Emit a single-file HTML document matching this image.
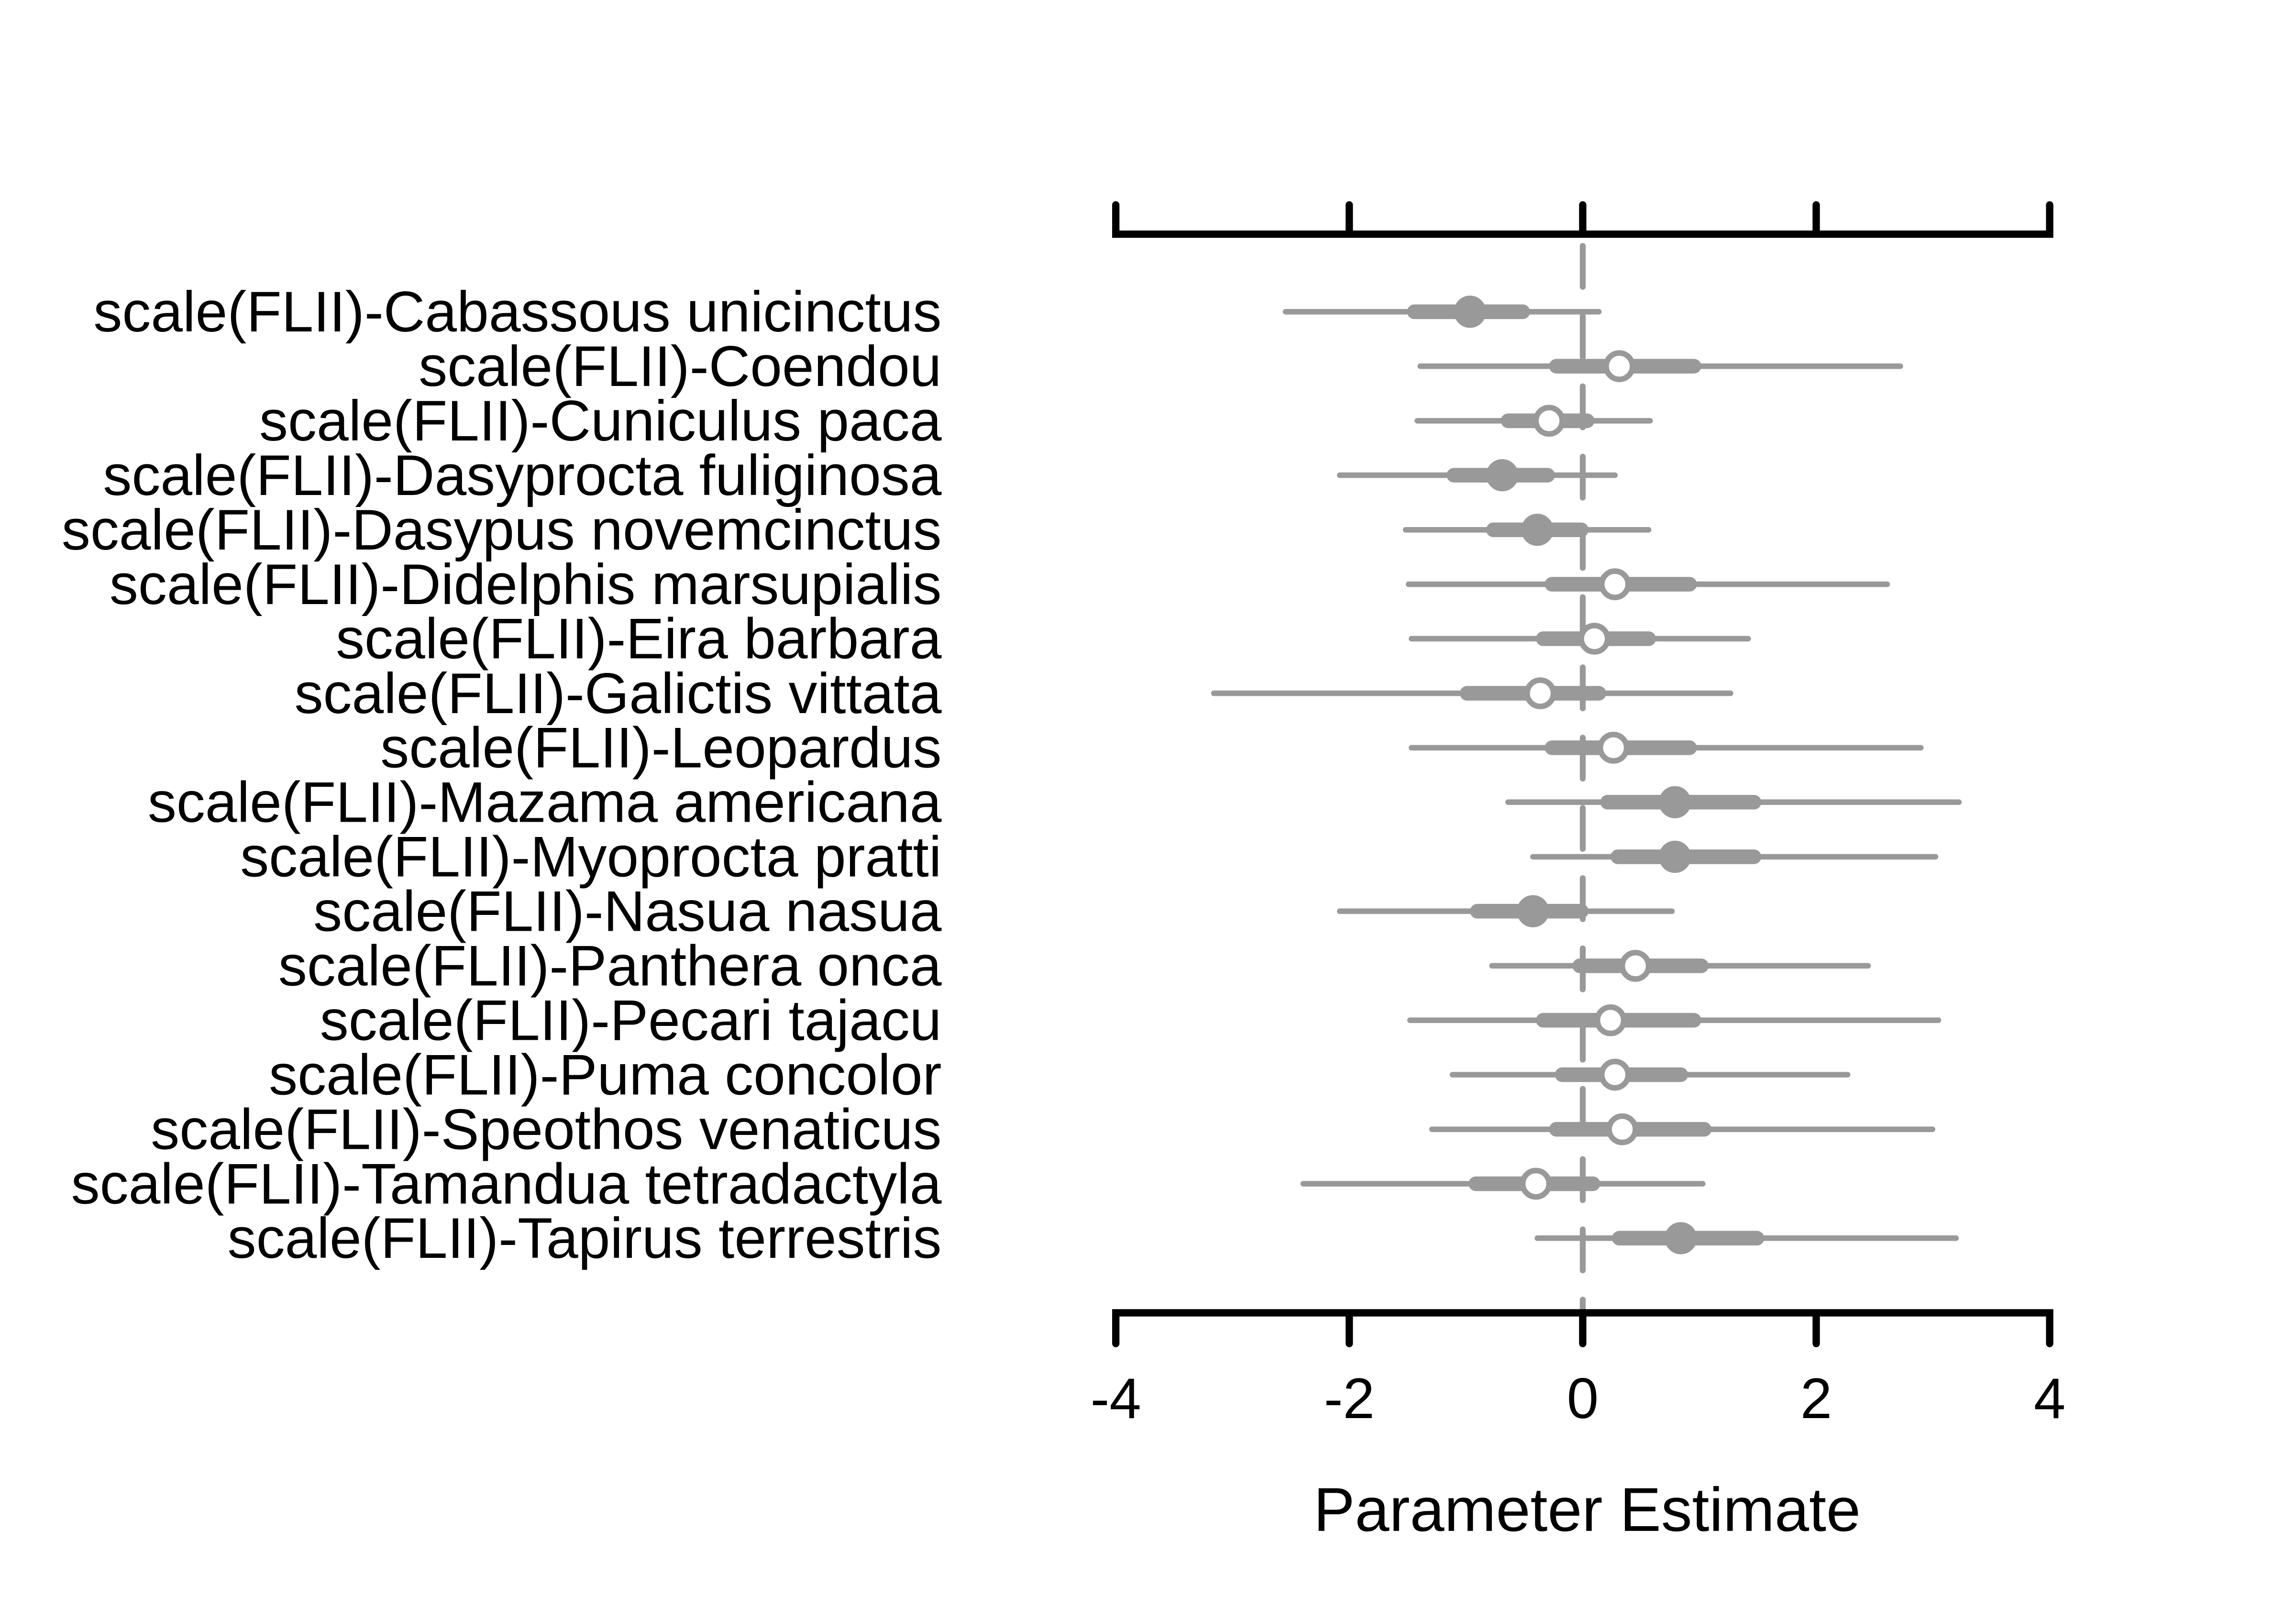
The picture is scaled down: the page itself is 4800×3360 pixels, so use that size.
<!DOCTYPE html>
<html><head><meta charset="utf-8"><style>html,body{margin:0;padding:0;background:#fff}svg{display:block}</style></head>
<body>
<svg width="4800" height="3360" viewBox="0 0 1568 1098" xmlns="http://www.w3.org/2000/svg" font-family="Liberation Sans, Arial, sans-serif">
<rect width="1568" height="1098" fill="#fff"/>
<line x1="1081" y1="168" x2="1081" y2="897" stroke="#999" stroke-width="4" stroke-dasharray="28,20" stroke-linecap="round"/>
<g stroke="#000" stroke-width="5" stroke-linecap="round" fill="none">
<path d="M762 140V160H1400V140M921.5 140V160M1081 140V160M1240.5 140V160"/>
<path d="M762 918V897H1400V918M921.5 918V897M1081 918V897M1240.5 918V897"/>
</g>
<g font-size="39" text-anchor="middle" fill="#000">
<text x="762" y="969">-4</text><text x="921.5" y="969">-2</text><text x="1081" y="969">0</text><text x="1240.5" y="969">2</text><text x="1400" y="969">4</text>
<text x="1084" y="1046" font-size="42.3">Parameter Estimate</text>
</g>
<g font-size="39.2" text-anchor="end" fill="#000">
<text x="643" y="226.5">scale(FLII)-Cabassous unicinctus</text>
<text x="643" y="263.7">scale(FLII)-Coendou</text>
<text x="643" y="301">scale(FLII)-Cuniculus paca</text>
<text x="643" y="338.2">scale(FLII)-Dasyprocta fuliginosa</text>
<text x="643" y="375.5">scale(FLII)-Dasypus novemcinctus</text>
<text x="643" y="412.7">scale(FLII)-Didelphis marsupialis</text>
<text x="643" y="449.9">scale(FLII)-Eira barbara</text>
<text x="643" y="487.2">scale(FLII)-Galictis vittata</text>
<text x="643" y="524.4">scale(FLII)-Leopardus</text>
<text x="643" y="561.6">scale(FLII)-Mazama americana</text>
<text x="643" y="598.9">scale(FLII)-Myoprocta pratti</text>
<text x="643" y="636.1">scale(FLII)-Nasua nasua</text>
<text x="643" y="673.4">scale(FLII)-Panthera onca</text>
<text x="643" y="710.6">scale(FLII)-Pecari tajacu</text>
<text x="643" y="747.8">scale(FLII)-Puma concolor</text>
<text x="643" y="785.1">scale(FLII)-Speothos venaticus</text>
<text x="643" y="822.3">scale(FLII)-Tamandua tetradactyla</text>
<text x="643" y="859.5">scale(FLII)-Tapirus terrestris</text>
</g>
<g stroke="#999" stroke-linecap="round" fill="#999">
<g transform="translate(0,213)"><line x1="878" x2="1092" stroke-width="3.8"/><line x1="966" x2="1040" stroke-width="10"/><circle cx="1004" r="10.5"/></g>
<g transform="translate(0,250.2)"><line x1="970" x2="1298" stroke-width="3.8"/><line x1="1063" x2="1157" stroke-width="10"/><circle cx="1106" r="9" fill="#fff" stroke-width="3.8"/></g>
<g transform="translate(0,287.5)"><line x1="968" x2="1127" stroke-width="3.8"/><line x1="1030" x2="1084" stroke-width="10"/><circle cx="1058" r="9" fill="#fff" stroke-width="3.8"/></g>
<g transform="translate(0,324.7)"><line x1="915" x2="1103" stroke-width="3.8"/><line x1="993" x2="1057" stroke-width="10"/><circle cx="1026" r="10.5"/></g>
<g transform="translate(0,362)"><line x1="960" x2="1126" stroke-width="3.8"/><line x1="1020" x2="1080" stroke-width="10"/><circle cx="1050" r="10.5"/></g>
<g transform="translate(0,399.2)"><line x1="962" x2="1289" stroke-width="3.8"/><line x1="1060" x2="1154" stroke-width="10"/><circle cx="1103" r="9" fill="#fff" stroke-width="3.8"/></g>
<g transform="translate(0,436.4)"><line x1="964" x2="1194" stroke-width="3.8"/><line x1="1054" x2="1126" stroke-width="10"/><circle cx="1089" r="9" fill="#fff" stroke-width="3.8"/></g>
<g transform="translate(0,473.7)"><line x1="829" x2="1182" stroke-width="3.8"/><line x1="1002" x2="1092" stroke-width="10"/><circle cx="1052" r="9" fill="#fff" stroke-width="3.8"/></g>
<g transform="translate(0,510.9)"><line x1="964" x2="1312" stroke-width="3.8"/><line x1="1060" x2="1154" stroke-width="10"/><circle cx="1102" r="9" fill="#fff" stroke-width="3.8"/></g>
<g transform="translate(0,548.1)"><line x1="1030" x2="1338" stroke-width="3.8"/><line x1="1098" x2="1198" stroke-width="10"/><circle cx="1144" r="10.5"/></g>
<g transform="translate(0,585.4)"><line x1="1047" x2="1322" stroke-width="3.8"/><line x1="1105" x2="1198" stroke-width="10"/><circle cx="1144" r="10.5"/></g>
<g transform="translate(0,622.6)"><line x1="915" x2="1142" stroke-width="3.8"/><line x1="1009" x2="1080" stroke-width="10"/><circle cx="1047" r="10.5"/></g>
<g transform="translate(0,659.9)"><line x1="1019" x2="1276" stroke-width="3.8"/><line x1="1079" x2="1162" stroke-width="10"/><circle cx="1117" r="9" fill="#fff" stroke-width="3.8"/></g>
<g transform="translate(0,697.1)"><line x1="963" x2="1324" stroke-width="3.8"/><line x1="1054" x2="1157" stroke-width="10"/><circle cx="1100" r="9" fill="#fff" stroke-width="3.8"/></g>
<g transform="translate(0,734.3)"><line x1="992" x2="1262" stroke-width="3.8"/><line x1="1067" x2="1148" stroke-width="10"/><circle cx="1103" r="9" fill="#fff" stroke-width="3.8"/></g>
<g transform="translate(0,771.6)"><line x1="978" x2="1320" stroke-width="3.8"/><line x1="1063" x2="1164" stroke-width="10"/><circle cx="1108" r="9" fill="#fff" stroke-width="3.8"/></g>
<g transform="translate(0,808.8)"><line x1="890" x2="1163" stroke-width="3.8"/><line x1="1008" x2="1088" stroke-width="10"/><circle cx="1049" r="9" fill="#fff" stroke-width="3.8"/></g>
<g transform="translate(0,846)"><line x1="1050" x2="1336" stroke-width="3.8"/><line x1="1106" x2="1200" stroke-width="10"/><circle cx="1148" r="10.5"/></g>
</g>
</svg>
</body></html>
